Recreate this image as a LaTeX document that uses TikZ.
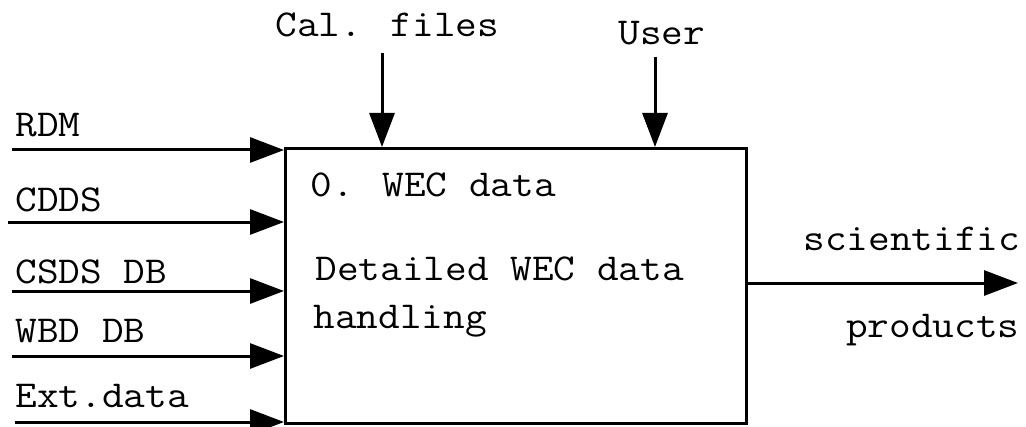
\documentclass[tikz,border=0pt]{standalone}
\usepackage{fontspec}
\newfontfamily\diagfont[FakeStretch=1.107]{Latin Modern Mono}
\usetikzlibrary{arrows.meta}
\begin{document}
\begin{tikzpicture}[x=0.5pt,y=-0.5pt,
  flow/.style={line width=1.5pt,-{Triangle[length=17pt,width=12.5pt]}},
  lbl/.style={inner sep=0pt,anchor=base west,font=\diagfont\fontsize{19pt}{22pt}\selectfont},
  process/.style={draw,line width=1.5pt,inner sep=0pt,anchor=north west,
    minimum width=230.5pt,minimum height=137.5pt}]
\useasboundingbox (0,0) rectangle (1026,427);

% process box
\node[process] (box) at (284,147) {};
\node[lbl] (title) at (310,197) {0. WEC data};
\node[lbl] (desc1) at (315,280) {Detailed WEC data};
\node[lbl] (desc2) at (313,328) {handling};

% inputs from the left
\coordinate (rdm) at (12,150);
\coordinate (cdds) at (8,222);
\coordinate (csds) at (12,291);
\coordinate (wbd) at (12,356);
\coordinate (ext) at (15,422);
\draw[flow] (rdm) -- (rdm -| box.west);
\draw[flow] (cdds) -- (cdds -| box.west);
\draw[flow] (csds) -- (csds -| box.west);
\draw[flow] (wbd) -- (wbd -| box.west);
\draw[flow] (ext) -- (ext -| box.west);
\node[lbl] (lrdm) at (15,137) {RDM};
\node[lbl] (lcdds) at (15,212) {CDDS};
\node[lbl] (lcsds) at (15,283) {CSDS DB};
\node[lbl] (lwbd) at (15,342) {WBD DB};
\node[lbl] (lext) at (15,407) {Ext.data};

% controls from the top
\coordinate (cal) at (382,53);
\coordinate (user) at (655,57);
\draw[flow] (cal) -- (cal |- box.north);
\draw[flow] (user) -- (user |- box.north);
\node[lbl] (lcal) at (275,37) {Cal. files};
\node[lbl] (luser) at (618,45) {User};

% output to the right
\coordinate (out) at (1018,283);
\draw[flow] (out -| box.east) -- (out);
\node[lbl] (lsci) at (803,250) {scientific};
\node[lbl,anchor=base east] (lprod) at (1020,337) {products};
\end{tikzpicture}
\end{document}
